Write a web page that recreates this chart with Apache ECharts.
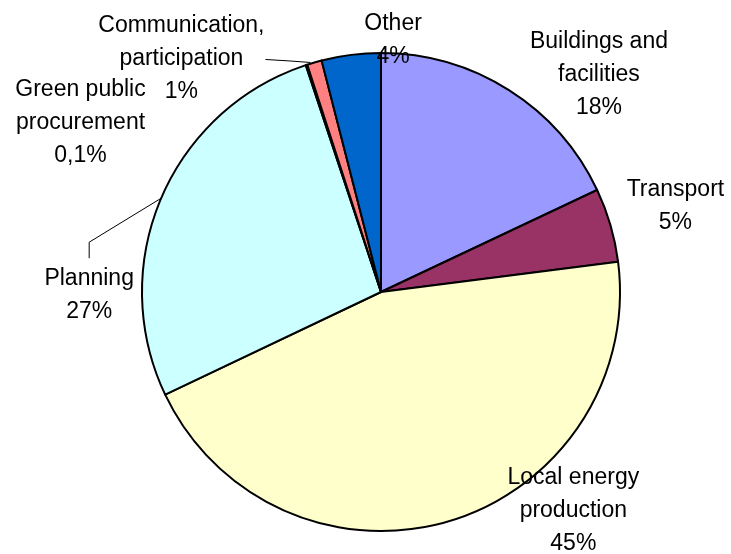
<!DOCTYPE html>
<html>
<head>
<meta charset="utf-8">
<script src="https://cdn.jsdelivr.net/npm/echarts@6/dist/echarts.min.js"></script>
<style>
html,body{margin:0;padding:0;background:#fff;}
#chart{width:731px;height:554px;}
</style>
</head>
<body>
<div id="chart"></div>
<script>
// Data
const categories = [
  'Buildings and\nfacilities',
  'Transport',
  'Local energy\nproduction',
  'Planning',
  'Green public\nprocurement',
  'Communication,\nparticipation',
  'Other'
];
const shares = [18, 5, 45, 27, 0.1, 1, 4];

// Styles
const colors = ['#9999FF', '#993366', '#FFFFCC', '#CCFFFF', '#660066', '#FF8080', '#0066CC'];
// label offset from the slice's outer mid-point (computed by the library)
const labelOffsets = [[90, -15], [65, -19], [125, -11], [-72, 97], [-226, 58], [-133, -4], [42, -15]];
// leader line kind per label
const guides = ['none', 'none', 'none', 'top', 'none', 'right', 'none'];

const chart = echarts.init(document.getElementById('chart'), null, {renderer: 'canvas'});

const seriesData = categories.map((name, i) => ({
  name: name,
  value: shares[i],
  itemStyle: {color: colors[i]},
  labelLine: {show: true, lineStyle: {opacity: guides[i] === 'none' ? 0 : 1}}
}));

chart.setOption({
  backgroundColor: '#ffffff',
  animation: false,
  series: [{
    type: 'pie',
    center: [381, 292],
    radius: 239,
    startAngle: 90,
    clockwise: true,
    avoidLabelOverlap: false,
    silent: true,
    data: seriesData,
    itemStyle: {borderColor: '#000000', borderWidth: 2},
    label: {
      show: true,
      position: 'outside',
      fontFamily: 'Liberation Sans, Arial, sans-serif',
      fontSize: 23,
      lineHeight: 33,
      color: '#000000',
      formatter: p => p.name + '\n' + String(p.value).replace('.', ',') + '%'
    },
    labelLine: {
      show: true,
      length: 10,
      length2: 0,
      smooth: false,
      lineStyle: {color: '#000000', width: 1}
    },
    emphasis: {disabled: true}
  }]
});

chart.setOption({
  series: [{
    labelLayout: function (params) {
      const i = params.dataIndex;
      const pts = params.labelLinePoints;
      if (!pts) return {};
      const p0 = pts[0];
      const off = labelOffsets[i];
      const x = p0[0] + off[0];
      const y = p0[1] + off[1];
      const w = params.labelRect.width;
      const h = params.labelRect.height;
      const res = {x: x, y: y, align: 'center', verticalAlign: 'middle'};
      if (guides[i] === 'top') {
        res.labelLinePoints = [[p0[0], p0[1]], [x, y - h / 2 - 20], [x, y - h / 2 - 4]];
      } else if (guides[i] === 'right') {
        const ex = x + w / 2 + 1;
        const ey = y + 1;
        res.labelLinePoints = [[p0[0] - 4, p0[1]], [(p0[0] + ex) / 2, (p0[1] + ey) / 2], [ex, ey]];
      } else {
        res.labelLinePoints = [[p0[0], p0[1]], [p0[0], p0[1]], [p0[0], p0[1]]];
      }
      return res;
    }
  }]
});
</script>
</body>
</html>
